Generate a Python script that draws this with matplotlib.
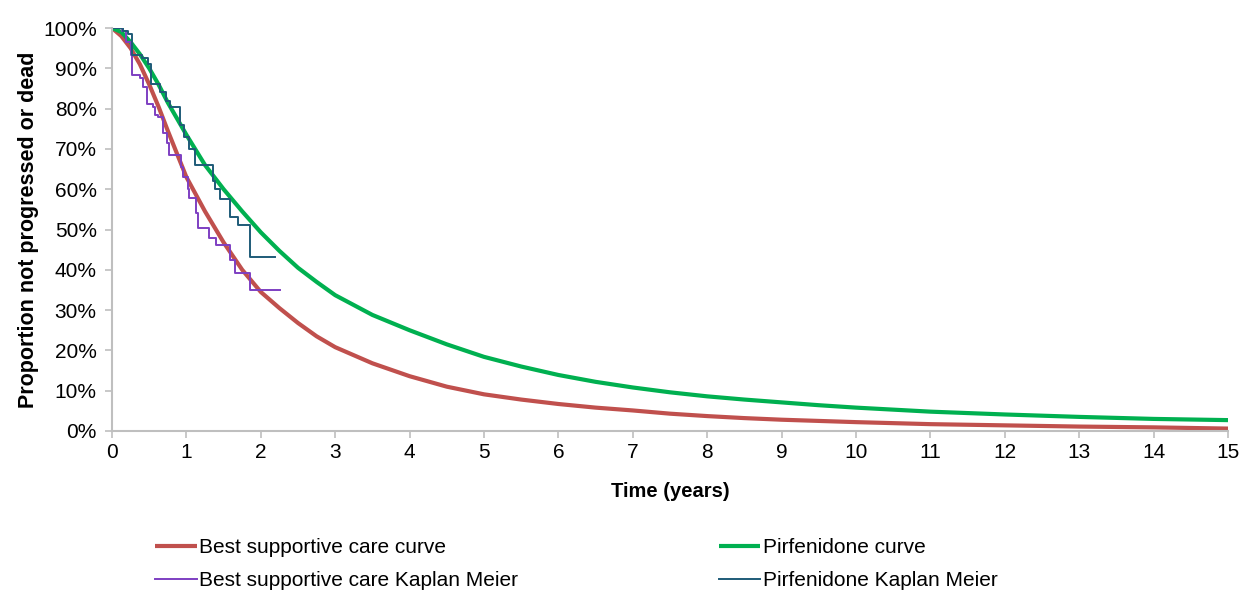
import matplotlib
matplotlib.use("Agg")
import matplotlib.pyplot as plt
from matplotlib.ticker import PercentFormatter, MultipleLocator

plt.rcParams['font.family'] = ['Liberation Sans', 'DejaVu Sans']

# ---- data (proportion, %) ----
bsc_t = [0, 0.125, 0.25, 0.375, 0.5, 0.625, 0.75, 1.0, 1.25, 1.5, 1.75, 2.0, 2.25, 2.5, 2.75, 3.0, 3.5, 4.0,
         4.5, 5.0, 5.5, 6.0, 6.5, 7.0, 7.5, 8.0, 8.5, 9.0, 9.5, 10, 11, 12, 13, 14, 15]
bsc_s = [100, 98, 95, 91, 86, 80.5, 74.5, 63, 54.5, 46.8, 40, 34.5, 30.5, 26.8, 23.5, 20.8, 16.8, 13.6,
         11, 9.1, 7.8, 6.7, 5.8, 5.1, 4.3, 3.7, 3.2, 2.8, 2.5, 2.2, 1.7, 1.4, 1.1, 0.9, 0.6]

pir_t = [0, 0.125, 0.25, 0.375, 0.5, 0.625, 0.75, 1.0, 1.25, 1.5, 1.75, 2.0, 2.25, 2.5, 2.75, 3.0, 3.5, 4.0,
         4.5, 5.0, 5.5, 6.0, 6.5, 7.0, 7.5, 8.0, 8.5, 9.0, 9.5, 10, 11, 12, 13, 14, 15]
pir_s = [100, 99, 96.5, 93.5, 90, 86, 81.5, 73.5, 66, 60, 54.5, 49.3, 44.7, 40.5, 37, 33.7, 28.8, 25,
         21.5, 18.4, 16, 13.9, 12.2, 10.8, 9.6, 8.6, 7.8, 7.1, 6.4, 5.8, 4.8, 4.1, 3.5, 3.0, 2.7]

bsc_km_t = [0, 0.13, 0.19, 0.25, 0.27, 0.37, 0.42, 0.47, 0.55, 0.58, 0.62, 0.69, 0.74, 0.76,
            0.93, 0.96, 1.02, 1.04, 1.13, 1.16, 1.31, 1.40, 1.59, 1.65, 1.86, 2.26]
bsc_km_s = [100, 99.3, 96.5, 93.3, 88.3, 87.6, 85.4, 81.2, 80.4, 78.3, 77.9, 74, 71.5, 68.5,
            65.5, 63.1, 60, 57.8, 54, 50.4, 48, 46.2, 42.5, 39.1, 35.0, 35.0]

pir_km_t = [0, 0.15, 0.22, 0.27, 0.40, 0.48, 0.53, 0.65, 0.73, 0.78, 0.92, 0.97, 1.03, 1.12,
            1.36, 1.39, 1.45, 1.59, 1.70, 1.86, 2.19]
pir_km_s = [100, 99.3, 98.5, 93.3, 92.5, 91, 86, 84, 82, 80.4, 76, 73, 70, 66,
            62, 60, 57.5, 53, 51, 43.2, 43.2]

labels = ["Best supportive care curve", "Best supportive care Kaplan Meier",
          "Pirfenidone curve", "Pirfenidone Kaplan Meier"]
x_ticks = list(range(0, 16))

RED = "#C0504D"
GREEN = "#00B050"
PURPLE = "#7E3FC2"
TEAL = "#1E5B78"
GRID = "#BFBFBF"

fig = plt.figure(figsize=(12.55, 5.99), dpi=100)
ax = fig.add_axes([112/1255, 1-431/599, (1228-112)/1255, (431-28)/599])

l1, = ax.plot(bsc_t, bsc_s, color=RED, lw=3.0, solid_capstyle='butt')
l3, = ax.plot(pir_t, pir_s, color=GREEN, lw=3.0, solid_capstyle='butt')
l2, = ax.step(bsc_km_t, bsc_km_s, where='post', color=PURPLE, lw=1.4)
l4, = ax.step(pir_km_t, pir_km_s, where='post', color=TEAL, lw=1.4)

ax.set_xlim(0, 15)
ax.set_ylim(0, 100)
ax.set_xticks(x_ticks)
ax.yaxis.set_major_locator(MultipleLocator(10))
ax.yaxis.set_major_formatter(PercentFormatter(decimals=0))

for s in ['top', 'right']:
    ax.spines[s].set_visible(False)
for s in ['left', 'bottom']:
    ax.spines[s].set_color(GRID)
    ax.spines[s].set_linewidth(1.5)
ax.tick_params(axis='both', colors=GRID, labelcolor='black', labelsize=15,
               length=5, width=1.2, direction='out')
ax.tick_params(axis='y', pad=6)
ax.tick_params(axis='x', pad=4)

ax.set_xlabel("Time (years)", fontsize=14.5, fontweight='bold', labelpad=14)
ax.set_ylabel("Proportion not progressed or dead", fontsize=15.5, fontweight='bold', labelpad=3)

fig.legend([l1, l2, l3, l4], labels, loc='upper left', bbox_to_anchor=(155/1255, 1-538/599),
           ncol=2, frameon=False, fontsize=15, handlelength=2.0, handletextpad=0.1,
           columnspacing=9.65, labelspacing=0.68, borderpad=0, borderaxespad=0)

fig.savefig("out.png", dpi=100, facecolor='white')
